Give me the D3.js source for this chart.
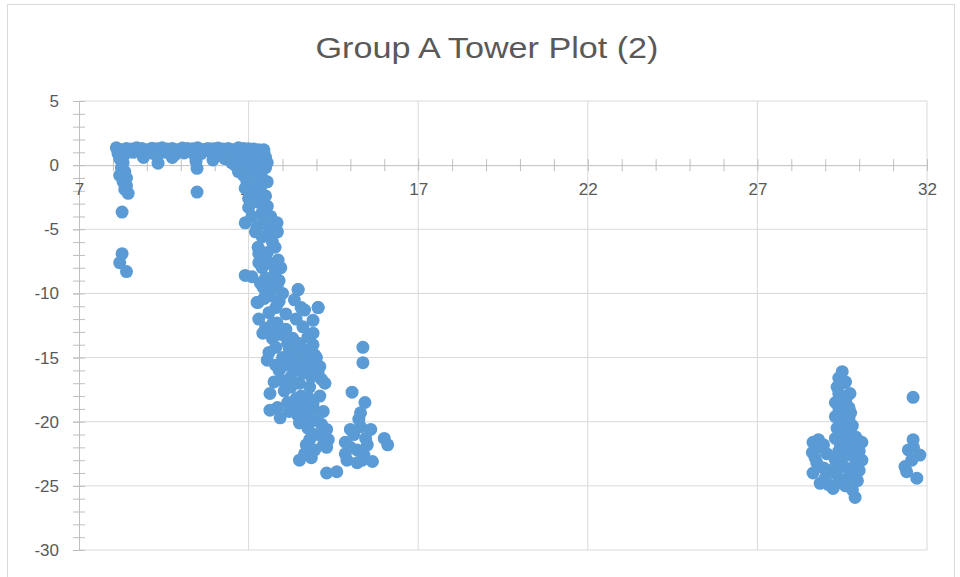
<!DOCTYPE html>
<html>
<head>
<meta charset="utf-8">
<script src="https://cdn.jsdelivr.net/npm/d3@7"></script>
<style>
  body { margin: 0; background: #fff; }
  svg { display: block; font-family: "Liberation Sans", Arial, sans-serif; }
</style>
</head>
<body>
<svg width="960" height="577"></svg>
<script>
// plateau near y = 1 (x 8 - 12.6)
const plateauX = [8.1, 8.25, 8.4, 8.55, 8.7, 8.85, 9.0, 9.15, 9.3, 9.45, 9.6, 9.75, 9.9, 10.05, 10.2, 10.35, 10.5, 10.65, 10.8, 10.95, 11.1, 11.25, 11.4, 11.55, 11.7, 11.85, 12.0, 12.15,
  8.15, 8.35, 8.6, 8.95, 9.2, 9.5, 9.85, 10.1, 10.4, 10.6, 10.9, 11.2, 11.4, 11.6, 11.8, 12.05, 12.3, 12.45,
  8.9, 9.33, 9.75, 10.45, 10.48, 10.48, 10.95, 11.3, 11.5,
  8.2, 8.3, 8.25, 8.35, 8.2, 8.4, 8.3, 8.4, 8.35, 8.45, 8.27, 8.27, 8.2, 8.4];
const plateauY = [1.35, 1.2, 1.3, 1.25, 1.35, 1.3, 1.2, 1.32, 1.28, 1.35, 1.25, 1.3, 1.2, 1.33, 1.3, 1.27, 1.35, 1.22, 1.3, 1.28, 1.34, 1.25, 1.3, 1.2, 1.35, 1.3, 1.28, 1.25,
  0.9, 0.85, 1.0, 0.95, 0.9, 1.0, 0.85, 0.95, 0.8, 0.9, 1.0, 0.95, 0.85, 0.7, 0.9, 1.0, 1.1, 1.2,
  0.6, 0.15, 0.6, 0.3, -0.25, -2.1, 0.4, 0.5, 0.2,
  0.5, 0.2, -0.2, -0.5, -0.8, -1.0, -1.3, -1.6, -1.9, -2.2, -3.66, -6.9, -7.6, -8.3];

// corner at x ~ 12 and the drop down to -12
const dropX = [11.6, 11.75, 11.9, 12.0, 12.1, 12.2, 12.3, 12.45, 12.5, 12.55, 12.5, 12.35, 12.2, 11.85, 12.0, 12.4, 12.55, 12.1, 11.9, 12.35, 12.2, 12.5, 12.0, 12.3, 11.7, 11.95, 12.15, 12.4,
  11.9, 12.4, 12.84, 12.1, 12.55, 12.6, 12.7, 12.4, 12.28, 12.78, 12.55, 12.87, 12.6, 12.4, 11.9, 12.78, 12.5, 12.48, 12.7, 12.9, 12.28, 12.8, 12.6, 13.46, 14.05, 13.55, 12.72, 13.0, 12.3,
  12.0, 12.25, 12.45, 12.7, 12.5, 12.75, 12.35, 12.95, 12.65, 12.45, 12.9, 12.2, 12.65, 12.85, 12.3, 12.1];
const dropY = [0.0, -0.3, 0.2, -0.1, 0.4, 0.8, 1.2, 1.0, 0.6, 0.2, -0.2, -0.4, -0.6, -0.8, -1.0, -1.0, -1.3, -1.5, -1.8, -1.8, -2.2, -2.4, -2.6, -2.9, -0.5, -1.3, 0.0, 0.3,
  -4.5, -3.7, -4.5, -4.0, -3.2, -5.0, -5.5, -5.6, -6.4, -6.4, -6.8, -7.4, -7.6, -8.0, -8.6, -8.4, -8.8, -9.7, -9.2, -9.0, -10.7, -11.1, -10.2, -9.7, -11.1, -11.1, -12.3, -10.0, -6.9,
  -3.3, -4.8, -4.3, -6.0, -7.2, -7.9, -9.2, -8.0, -9.9, -10.4, -10.6, -5.2, -4.0, -5.2, -7.6, -8.7];

// main blob x 12.3 - 14.6
const blobX = [12.42, 12.84, 13.46, 12.25, 14.05, 13.65, 12.84, 13.9, 12.42, 13.9, 13.5, 12.55, 13.3, 13.8, 14.1, 14.25, 12.63, 13.25, 13.75, 12.63, 12.93, 13.6, 13.5, 14.0, 14.3, 13.8, 14.3, 13.5, 14.3, 14.6,
  13.1, 13.3, 13.6, 13.2, 13.45, 13.7, 13.9, 14.0, 13.1, 13.35, 13.6, 13.85, 14.05, 13.0, 13.25, 13.5, 13.8, 14.1, 13.4, 13.15, 13.0, 12.8, 12.7, 12.9, 13.6, 13.9, 13.75, 14.1, 13.95, 13.7, 12.85, 13.1, 13.4, 13.35, 12.6, 12.3,
  12.5, 12.75, 12.6, 12.95, 13.15, 13.4, 13.65, 13.9, 14.15, 13.3, 13.55, 13.75, 13.95, 12.8, 12.75, 13.05, 13.3, 13.55, 13.9, 14.2, 13.45, 13.75, 14.15, 14.2, 13.95, 14.35, 13.2, 12.85, 13.65, 13.85];
const blobY = [-9.5, -9.5, -9.7, -10.7, -11.1, -11.3, -12.3, -12.1, -13.1, -13.1, -13.9, -15.2, -14.95, -15.2, -15.7, -17.0, -17.8, -17.3, -18.1, -19.1, -19.7, -18.8, -20.1, -19.9, -20.6, -21.4, -22.0, -23.0, -24.0, -23.9,
  -12.8, -13.5, -12.6, -14.3, -15.0, -14.5, -14.0, -15.0, -15.6, -16.0, -16.2, -16.5, -16.2, -16.8, -16.5, -17.0, -17.3, -18.0, -18.2, -18.5, -15.0, -14.2, -13.5, -16.0, -19.5, -19.0, -20.5, -21.0, -22.2, -21.8, -10.8, -11.6, -12.0, -10.5, -11.5, -12.0,
  -12.7, -12.9, -14.6, -13.2, -13.9, -14.6, -15.6, -15.9, -16.7, -15.4, -14.2, -13.4, -14.8, -15.6, -16.9, -17.6, -18.9, -18.0, -18.6, -19.2, -19.5, -19.7, -20.2, -21.8, -21.0, -21.4, -19.2, -18.9, -22.5, -22.8];

// tail x 14.6 - 16.1
const tailX = [15.37, 15.37, 15.05, 15.43, 15.3, 15.3, 15.0, 15.6, 16.0, 16.1, 14.85, 15.2, 14.9, 15.65, 15.2, 14.85, 15.5, 15.4, 15.1, 15.25, 15.45, 15.0, 15.35];
const tailY = [-14.2, -15.4, -17.7, -18.5, -19.3, -20.4, -20.6, -20.6, -21.3, -21.8, -21.6, -22.2, -23.0, -23.1, -23.2, -22.5, -21.8, -22.6, -21.0, -19.8, -21.3, -22.0, -23.0];

// far group x 28.6 - 31.8
const farX = [29.5, 29.4, 29.6, 29.35, 29.73, 29.4, 29.3, 29.6, 29.45, 29.75, 29.3, 29.55, 29.8, 29.35, 29.6, 29.9, 29.3, 29.55, 30.08, 29.8, 29.4, 29.65, 30.08, 29.3, 29.9, 29.55, 30.0, 29.3, 29.7, 29.5, 29.23, 29.8, 29.88, 29.95,
  29.5, 29.65, 29.4, 29.7, 29.35, 29.7, 29.45, 29.7, 29.45, 29.75, 29.45, 29.85, 30.0, 29.55, 29.35, 29.85, 29.45, 29.7, 29.4, 29.85, 29.6, 29.1, 28.75, 28.95, 29.15,
  28.64, 28.8, 28.62, 28.9, 28.7, 28.64, 28.85, 29.0, 28.95, 29.05,
  31.59, 31.59, 31.45, 31.79, 31.35, 31.55, 31.7, 31.4, 31.6];
const farY = [-16.1, -16.6, -16.9, -17.3, -17.8, -17.8, -18.5, -18.4, -19.0, -19.3, -19.6, -19.9, -20.3, -20.5, -20.8, -21.2, -21.3, -21.7, -21.6, -22.0, -22.3, -22.6, -23.0, -23.0, -23.3, -23.5, -23.8, -24.0, -24.3, -24.8, -25.2, -25.3, -25.9, -24.6,
  -17.0, -18.0, -18.9, -18.9, -19.5, -19.7, -20.1, -20.4, -21.0, -21.0, -21.9, -21.7, -22.3, -22.4, -22.7, -22.7, -23.3, -23.7, -24.4, -24.0, -25.0, -24.9, -23.2, -21.8, -23.8,
  -21.6, -21.4, -22.4, -22.0, -22.8, -24.0, -24.8, -24.4, -23.6, -22.5,
  -18.1, -21.4, -22.2, -22.6, -23.5, -23.0, -24.4, -23.9, -22.0];

const xMajor = [7, 12, 17, 22, 27, 32];
const yMajor = [5, 0, -5, -10, -15, -20, -25, -30];

const points = [
  ...plateauX.map((x, i) => ({ x, y: plateauY[i] })),
  ...dropX.map((x, i) => ({ x, y: dropY[i] })),
  ...blobX.map((x, i) => ({ x, y: blobY[i] })),
  ...tailX.map((x, i) => ({ x, y: tailY[i] })),
  ...farX.map((x, i) => ({ x, y: farY[i] }))
];

const svg = d3.select("svg");
const margin = { top: 101, right: 33, bottom: 27, left: 79 };
const width = +svg.attr("width") - margin.left - margin.right;
const height = +svg.attr("height") - margin.top - margin.bottom;

// chart border
svg.append("rect")
  .attr("x", 7.5).attr("y", 4.5)
  .attr("width", 947).attr("height", 590)
  .attr("fill", "none").attr("stroke", "#d9d9d9");

svg.append("text")
  .attr("x", 487).attr("y", 58)
  .attr("text-anchor", "middle")
  .attr("font-size", 30)
  .attr("fill", "#595959")
  .attr("textLength", 343).attr("lengthAdjust", "spacingAndGlyphs")
  .text("Group A Tower Plot (2)");

const g = svg.append("g").attr("transform", `translate(${margin.left},${margin.top})`);

const x = d3.scaleLinear().domain([7, 32]).range([0, width]);
const y = d3.scaleLinear().domain([-30, 5]).range([height, 0]);

// gridlines
g.append("g").selectAll("line")
  .data(yMajor.filter(d => d !== 0))
  .join("line")
  .attr("x1", 0).attr("x2", width)
  .attr("y1", d => y(d)).attr("y2", d => y(d))
  .attr("stroke", "#d9d9d9");
g.append("g").selectAll("line")
  .data(xMajor.filter(d => d !== 7))
  .join("line")
  .attr("y1", 0).attr("y2", height)
  .attr("x1", d => x(d)).attr("x2", d => x(d))
  .attr("stroke", "#d9d9d9");

// minor cross ticks
const yMinor = d3.axisLeft(y).tickValues(d3.range(-30, 6, 1)).tickSize(12).tickFormat("");
g.append("g").attr("transform", "translate(6,0)").call(yMinor)
  .call(a => a.select(".domain").remove())
  .selectAll("line").attr("stroke", "#bfbfbf");
const xMinor = d3.axisBottom(x).tickValues(d3.range(7, 33, 1)).tickSize(12).tickFormat("");
g.append("g").attr("transform", `translate(0,${y(0) - 6})`).call(xMinor)
  .call(a => a.select(".domain").remove())
  .selectAll("line").attr("stroke", "#bfbfbf");

// main axes (plain hyphen for negatives, like the original)
const fmt = d => String(d);
const yAxis = g.append("g").call(d3.axisLeft(y).tickValues(yMajor).tickSize(6).tickPadding(14).tickFormat(fmt));
yAxis.select(".domain").attr("stroke", "#bfbfbf");
yAxis.selectAll("line").attr("stroke", "#bfbfbf");
yAxis.selectAll("text").attr("fill", "#595959").attr("font-size", 17)
  .attr("font-family", "Liberation Sans, Arial, sans-serif");

const xAxis = g.append("g").attr("transform", `translate(0,${y(0)})`)
  .call(d3.axisBottom(x).tickValues(xMajor).tickSize(0).tickPadding(18).tickFormat(fmt));
xAxis.select(".domain").attr("stroke", "#bfbfbf");
xAxis.selectAll("text").attr("fill", "#595959").attr("font-size", 17)
  .attr("font-family", "Liberation Sans, Arial, sans-serif");

// markers
g.append("g").selectAll("circle")
  .data(points)
  .join("circle")
  .attr("cx", d => x(d.x))
  .attr("cy", d => y(d.y))
  .attr("r", 6.5)
  .attr("fill", "#5b9bd5");
</script>
</body>
</html>
